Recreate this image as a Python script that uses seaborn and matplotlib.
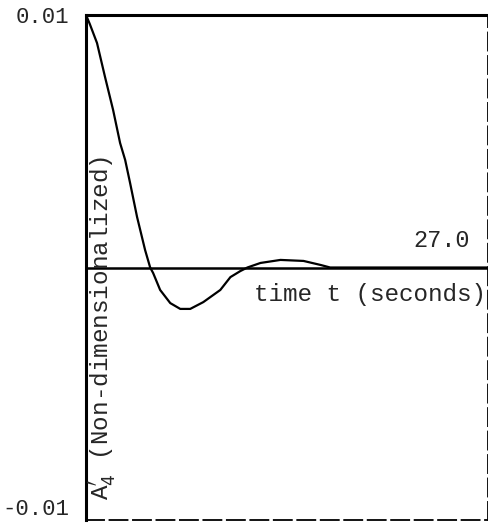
import numpy as np
import pandas as pd
import matplotlib
matplotlib.use("Agg")
import matplotlib.pyplot as plt
import seaborn as sns

# values (time in seconds, A4' non-dimensionalized)
time_s = [0.0, 0.25, 0.74, 1.28, 1.82, 2.29, 2.63, 2.96, 3.43, 3.97, 4.31,
          4.51, 4.98, 5.66, 6.33, 7.00, 7.88, 9.02, 9.70, 10.37, 10.84,
          11.72, 13.06, 14.61, 15.76, 16.4, 20.0, 27.0]
amplitude = [0.0100, 0.00965, 0.00889, 0.00754, 0.00624, 0.00493, 0.00426,
             0.00335, 0.00200, 0.00069, 0.0, -0.00022, -0.00089, -0.00141,
             -0.00164, -0.00164, -0.00137, -0.00089, -0.00038, -0.00014, 0.0,
             0.00018, 0.00030, 0.00026, 0.00010, 0.0, 0.0, 0.0]
y_ticks = [-0.01, 0.01]
y_tick_labels = ["-0.01", "0.01"]
t_end_label = "27.0"

df = pd.DataFrame({"t": time_s, "A4": amplitude})

sns.set_style("white")
plt.rcParams["font.family"] = ["Liberation Mono", "DejaVu Sans Mono"]
plt.rcParams["mathtext.fontset"] = "dejavusans"

fig = plt.figure(figsize=(4.89, 5.25), dpi=100)
ax = fig.add_axes([86 / 489, 5 / 525, 402 / 489, 505 / 525])

sns.lineplot(data=df, x="t", y="A4", ax=ax, color="black", lw=1.6)
ax.axhline(0, color="black", lw=1.8)

ax.set_xlim(0, 27.0)
ax.set_ylim(-0.01, 0.01)
ax.set_xticks([])
ax.set_yticks(y_ticks)
ax.set_yticklabels(y_tick_labels, fontsize=16)
ax.tick_params(axis="y", length=0, pad=12)
lbl_bottom, lbl_top = ax.get_yticklabels()
lbl_bottom.set_va("bottom")
lbl_top.set_va("center_baseline")
ax.set_xlabel("")
ax.set_ylabel("")

for side in ["top", "left"]:
    ax.spines[side].set_color("black")
    ax.spines[side].set_linewidth(2.2)
for side in ["right", "bottom"]:
    ax.spines[side].set_color("black")
    ax.spines[side].set_linewidth(1.3)
    ax.spines[side].set_linestyle((0, (10, 3)))

ax.text(0.955, 0.53, t_end_label, transform=ax.transAxes, ha="right",
        va="bottom", fontsize=17)
ax.text(0.995, 0.47, "time t (seconds)", transform=ax.transAxes, ha="right",
        va="top", fontsize=17.5)
ax.text(0.04, 0.04, r"A$_4'$ (Non-dimensionalized)", transform=ax.transAxes,
        rotation=90, ha="center", va="bottom", fontsize=17.5)

fig.savefig("out.png", dpi=100)
